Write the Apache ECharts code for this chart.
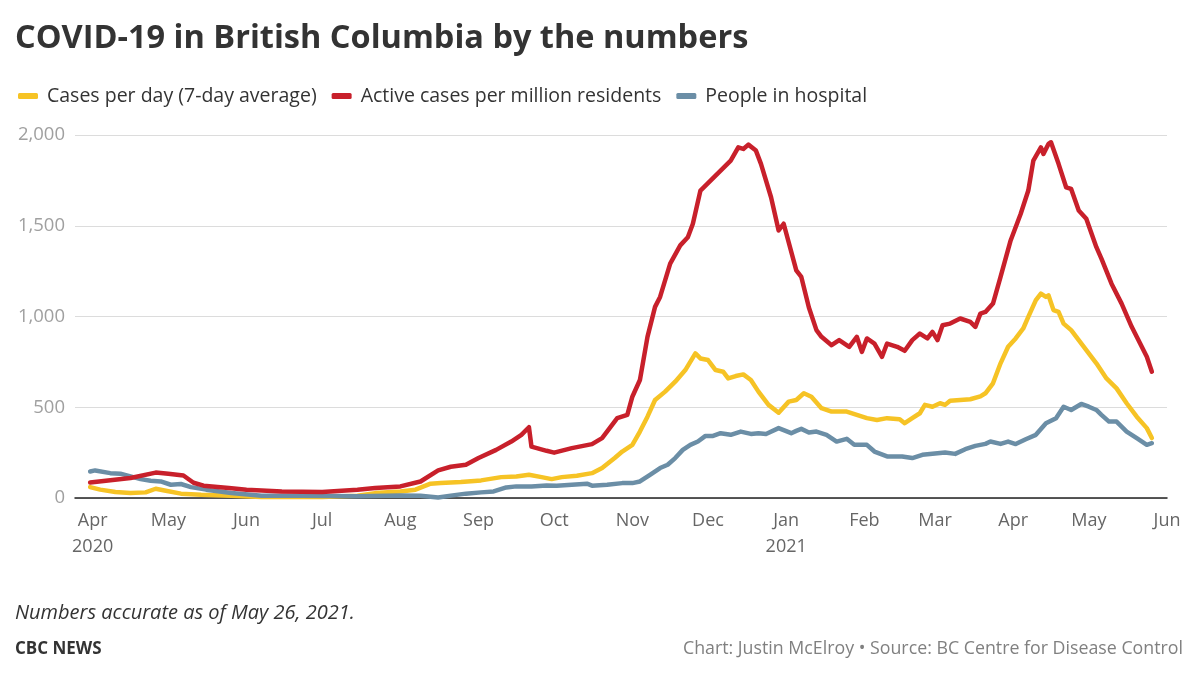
<!DOCTYPE html>
<html lang="en">
<head>
  <meta charset="UTF-8">
  <title>COVID-19 in British Columbia by the numbers</title>
  <style>
    * { box-sizing: border-box; margin: 0; padding: 0; }
    body { background: #fff; width: 1200px; height: 681px; overflow: hidden; }
    #chart { width: 1200px; height: 681px; }
  </style>
  <script src="https://cdn.jsdelivr.net/npm/echarts@6/dist/echarts.min.js"></script>
</head>
<body>
  <div id="chart"></div>
  <script>
    // cases per day (7-day average)
    const casesDates = ['2020-03-31','2020-04-04','2020-04-10','2020-04-16','2020-04-22','2020-04-26','2020-04-30','2020-05-06','2020-05-14','2020-05-26','2020-06-07','2020-06-23','2020-07-01','2020-07-15','2020-07-22','2020-08-01','2020-08-07','2020-08-13','2020-08-17','2020-08-25','2020-09-02','2020-09-10','2020-09-16','2020-09-21','2020-09-26','2020-09-30','2020-10-04','2020-10-10','2020-10-16','2020-10-20','2020-10-25','2020-10-28','2020-11-01','2020-11-04','2020-11-07','2020-11-10','2020-11-14','2020-11-18','2020-11-22','2020-11-26','2020-11-28','2020-12-01','2020-12-04','2020-12-07','2020-12-09','2020-12-12','2020-12-15','2020-12-18','2020-12-21','2020-12-25','2020-12-29','2021-01-02','2021-01-05','2021-01-08','2021-01-11','2021-01-15','2021-01-19','2021-01-25','2021-01-29','2021-02-02','2021-02-06','2021-02-10','2021-02-15','2021-02-17','2021-02-20','2021-02-23','2021-02-25','2021-02-28','2021-03-03','2021-03-05','2021-03-07','2021-03-11','2021-03-15','2021-03-19','2021-03-21','2021-03-24','2021-03-27','2021-03-30','2021-04-02','2021-04-05','2021-04-07','2021-04-10','2021-04-12','2021-04-14','2021-04-15','2021-04-17','2021-04-19','2021-04-21','2021-04-24','2021-04-27','2021-04-30','2021-05-04','2021-05-08','2021-05-12','2021-05-16','2021-05-20','2021-05-24','2021-05-26'];
    const casesVals = [60,46,33,27,31,51,40,24,18,13,5,5,6,12,27,36,46,79,82,88,97,115,119,128,115,104,115,123,137,165,220,256,293,366,448,540,586,641,705,797,769,760,705,696,659,672,681,650,586,513,470,531,540,577,558,495,476,476,458,440,430,440,434,412,440,467,513,503,522,513,536,540,544,560,577,632,742,833,879,934,998,1090,1126,1108,1117,1035,1025,961,925,870,815,742,659,604,522,448,385,330];

    // active cases per million residents
    const activeDates = ['2020-03-31','2020-04-16','2020-04-26','2020-05-01','2020-05-07','2020-05-11','2020-05-15','2020-05-25','2020-06-01','2020-06-15','2020-07-01','2020-07-15','2020-07-22','2020-08-01','2020-08-09','2020-08-16','2020-08-21','2020-08-27','2020-09-01','2020-09-08','2020-09-14','2020-09-18','2020-09-21','2020-09-22','2020-09-28','2020-10-01','2020-10-08','2020-10-16','2020-10-20','2020-10-26','2020-10-30','2020-11-01','2020-11-04','2020-11-07','2020-11-10','2020-11-12','2020-11-16','2020-11-20','2020-11-23','2020-11-25','2020-11-28','2020-12-02','2020-12-06','2020-12-10','2020-12-13','2020-12-15','2020-12-17','2020-12-20','2020-12-22','2020-12-26','2020-12-29','2020-12-31','2021-01-05','2021-01-07','2021-01-10','2021-01-13','2021-01-15','2021-01-19','2021-01-22','2021-01-26','2021-01-29','2021-01-31','2021-02-02','2021-02-05','2021-02-08','2021-02-10','2021-02-14','2021-02-17','2021-02-20','2021-02-23','2021-02-26','2021-02-28','2021-03-02','2021-03-04','2021-03-07','2021-03-11','2021-03-15','2021-03-17','2021-03-19','2021-03-21','2021-03-24','2021-03-27','2021-03-31','2021-04-04','2021-04-07','2021-04-09','2021-04-12','2021-04-13','2021-04-15','2021-04-16','2021-04-19','2021-04-22','2021-04-24','2021-04-27','2021-04-30','2021-05-04','2021-05-06','2021-05-10','2021-05-14','2021-05-18','2021-05-20','2021-05-24','2021-05-26'];
    const activeVals = [85,110,140,133,124,84,68,55,46,36,33,45,55,64,91,152,172,183,220,265,311,348,390,283,260,250,275,297,330,440,458,558,650,888,1053,1108,1291,1392,1437,1511,1694,1749,1804,1859,1932,1923,1947,1914,1841,1657,1474,1511,1254,1218,1050,925,888,842,870,833,888,805,879,851,778,851,833,811,870,906,879,915,870,952,961,989,970,943,1016,1025,1071,1218,1419,1566,1694,1859,1932,1896,1951,1960,1841,1712,1703,1584,1538,1382,1319,1181,1071,943,888,778,696];

    // people in hospital
    const hospDates = ['2020-03-31','2020-04-02','2020-04-08','2020-04-12','2020-04-16','2020-04-20','2020-04-24','2020-04-28','2020-05-02','2020-05-06','2020-05-10','2020-05-16','2020-05-26','2020-06-07','2020-06-23','2020-07-15','2020-08-01','2020-08-09','2020-08-16','2020-08-21','2020-08-27','2020-09-02','2020-09-07','2020-09-12','2020-09-16','2020-09-22','2020-09-28','2020-10-02','2020-10-08','2020-10-14','2020-10-16','2020-10-22','2020-10-28','2020-11-01','2020-11-04','2020-11-08','2020-11-12','2020-11-15','2020-11-18','2020-11-21','2020-11-24','2020-11-27','2020-11-30','2020-12-03','2020-12-06','2020-12-10','2020-12-14','2020-12-18','2020-12-21','2020-12-24','2020-12-29','2021-01-03','2021-01-05','2021-01-07','2021-01-10','2021-01-13','2021-01-17','2021-01-21','2021-01-25','2021-01-28','2021-02-02','2021-02-05','2021-02-10','2021-02-16','2021-02-20','2021-02-24','2021-03-02','2021-03-05','2021-03-09','2021-03-13','2021-03-17','2021-03-21','2021-03-23','2021-03-27','2021-03-30','2021-04-02','2021-04-06','2021-04-10','2021-04-14','2021-04-18','2021-04-21','2021-04-24','2021-04-28','2021-05-01','2021-05-04','2021-05-06','2021-05-09','2021-05-12','2021-05-16','2021-05-20','2021-05-24','2021-05-26'];
    const hospVals = [146,152,137,134,119,104,95,91,73,77,60,46,27,13,12,10,14,13,3,13,24,31,36,58,64,64,69,68,73,79,68,73,82,82,91,128,165,183,220,265,293,311,342,342,357,348,366,353,357,353,385,357,370,381,361,366,348,311,326,293,293,256,229,229,220,238,247,251,243,269,287,298,311,298,311,297,324,348,412,440,503,485,518,503,485,458,421,421,366,330,293,302];

    const monthTicks = ['2020-04-01','2020-05-01','2020-06-01','2020-07-01','2020-08-01','2020-09-01','2020-10-01','2020-11-01','2020-12-01','2021-01-01','2021-02-01','2021-03-01','2021-04-01','2021-05-01','2021-06-01'];
    const monthNames = ['Jan','Feb','Mar','Apr','May','Jun','Jul','Aug','Sep','Oct','Nov','Dec'];
    const yTicks = [0, 500, 1000, 1500, 2000];

    function toTime(s) {
      const p = s.split('-').map(Number);
      return new Date(p[0], p[1] - 1, p[2]).getTime();
    }
    function pairs(dates, vals) {
      return dates.map((d, i) => [toTime(d), vals[i]]);
    }

    const FONT = '"Open Sans", "Noto Sans", sans-serif';
    const chart = echarts.init(document.getElementById('chart'), null, { renderer: 'canvas' });

    chart.setOption({
      animation: false,
      backgroundColor: '#fff',
      textStyle: { fontFamily: FONT },
      title: [
        {
          text: 'COVID-19 in British Columbia by the numbers',
          left: 15, top: 22, padding: 0,
          textStyle: { fontFamily: FONT, fontWeight: 'bold', fontSize: 32.5, color: '#333' }
        },
        {
          text: 'Numbers accurate as of May 26, 2021.',
          left: 15, top: 603, padding: 0,
          textStyle: { fontFamily: FONT, fontStyle: 'italic', fontWeight: 'normal', fontSize: 20, color: '#333' }
        },
        {
          text: 'CBC NEWS',
          left: 15, top: 641, padding: 0,
          textStyle: { fontFamily: FONT, fontWeight: 'bold', fontSize: 17, color: '#333' }
        },
        {
          text: 'Chart: Justin McElroy \u2022 Source: BC Centre for Disease Control',
          right: 17, top: 640, padding: 0,
          textStyle: { fontFamily: FONT, fontWeight: 'normal', fontSize: 17.8, color: '#808080' }
        }
      ],
      legend: {
        left: 18, top: 86, padding: 0,
        data: ['Cases per day (7-day average)', 'Active cases per million residents', 'People in hospital'],
        icon: 'roundRect',
        itemWidth: 20, itemHeight: 6,
        itemGap: 15,
        textStyle: { fontFamily: FONT, fontSize: 19.5, color: '#333', padding: [0, 0, 0, 4] }
      },
      grid: { left: 75, right: 33, top: 135, bottom: 183 },
      xAxis: {
        type: 'value',
        min: toTime('2020-03-25'),
        max: toTime('2021-06-01'),
        axisLine: { lineStyle: { color: '#222', width: 1.5 } },
        axisTick: { show: false },
        splitLine: { show: false },
        axisLabel: {
          customValues: monthTicks.map(toTime),
          margin: 10,
          fontFamily: FONT, fontSize: 18, color: '#666', lineHeight: 26,
          formatter: function (v) {
            const d = new Date(v);
            let s = monthNames[d.getMonth()];
            if (d.getMonth() === 3 && d.getFullYear() === 2020) s += '\n2020';
            if (d.getMonth() === 0) s += '\n' + d.getFullYear();
            return s;
          }
        }
      },
      yAxis: {
        type: 'value',
        min: yTicks[0], max: yTicks[yTicks.length - 1], interval: 500,
        axisLine: { show: false },
        axisTick: { show: false },
        splitLine: { lineStyle: { color: '#dcdcdc', width: 1 } },
        axisLabel: {
          margin: 10,
          fontFamily: FONT, fontSize: 18.5, color: '#a0a0a0',
          formatter: v => v.toLocaleString('en-US')
        }
      },
      series: [
        {
          name: 'Cases per day (7-day average)', type: 'line',
          data: pairs(casesDates, casesVals),
          showSymbol: false, color: '#f6c325',
          lineStyle: { width: 4.5, join: 'round', cap: 'round' }, z: 2
        },
        {
          name: 'People in hospital', type: 'line',
          data: pairs(hospDates, hospVals),
          showSymbol: false, color: '#6b8ea6',
          lineStyle: { width: 4.5, join: 'round', cap: 'round' }, z: 3
        },
        {
          name: 'Active cases per million residents', type: 'line',
          data: pairs(activeDates, activeVals),
          showSymbol: false, color: '#c8202b',
          lineStyle: { width: 4.5, join: 'round', cap: 'round' }, z: 4
        }
      ]
    });
  </script>
</body>
</html>
